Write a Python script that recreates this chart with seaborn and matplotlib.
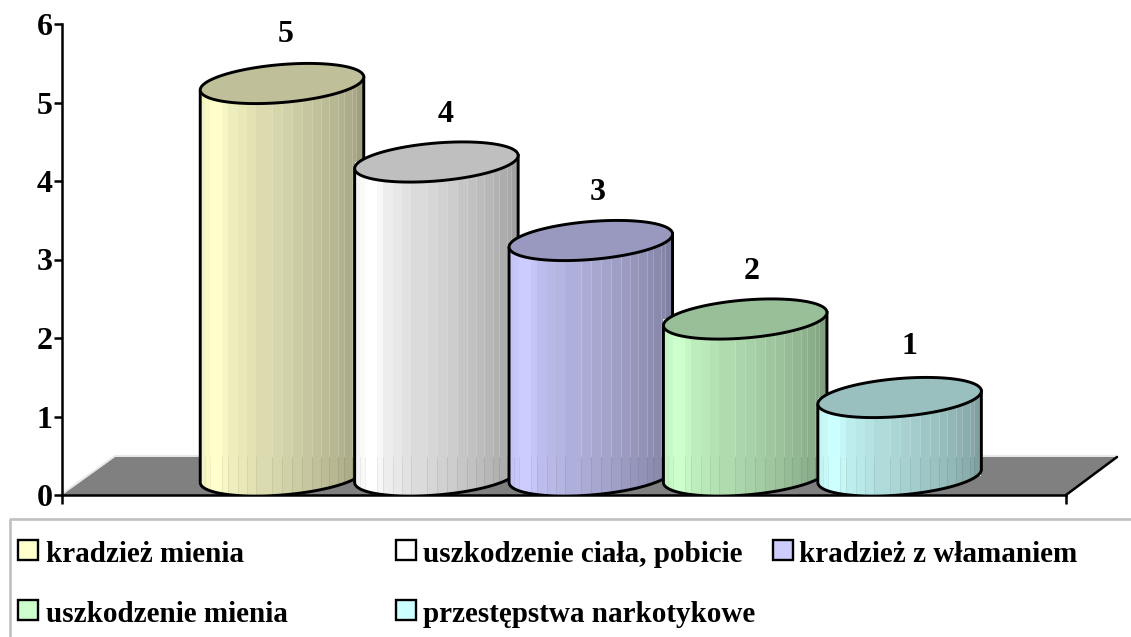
import numpy as np
import pandas as pd
import matplotlib
matplotlib.use('Agg')
import matplotlib.pyplot as plt
import seaborn as sns
from matplotlib.lines import Line2D
from matplotlib.patches import Polygon, Rectangle, PathPatch
from matplotlib.path import Path

# Chart data
categories = ['kradzież mienia', 'uszkodzenie ciała, pobicie', 'kradzież z włamaniem',
              'uszkodzenie mienia', 'przestępstwa narkotykowe']
values = [5, 4, 3, 2, 1]
colors = ['#ffffcc', '#ffffff', '#ccccff', '#ccffcc', '#ccffff']

# Styling of the fake 3D cylinders
band_edges = [0, 5, 10, 22, 28, 38, 47, 56, 72, 82, 92, 102, 112, 121, 129, 138, 144, 152, 156, 164]
band_shades = [0.96, 0.98, 1.0, 0.97, 0.93, 0.91, 0.89, 0.86, 0.84, 0.82, 0.80, 0.78, 0.76,
               0.74, 0.72, 0.70, 0.68, 0.66, 0.63]
label_dx = [4, 9, 7, 6, 10]
label_dy = [48.5, 47.5, 48.5, 47.5, 51.5]
W, H = 1131, 637

sns.set_style('white')
plt.rcParams['font.family'] = ['Liberation Serif', 'DejaVu Serif']
plt.rcParams['font.weight'] = 'bold'


def fig_xy(x, y):
    return x / W, 1 - y / H


df = pd.DataFrame({'category': categories, 'value': values})

fig = plt.figure(figsize=(W / 100, H / 100), dpi=100)
ax = fig.add_axes([62 / W, (H - 495) / H, (1066 - 62) / W, (495 - 24) / H])

sns.barplot(data=df, x='category', y='value', hue='category', palette=colors, width=1.059,
            saturation=1, legend=False, linewidth=0, ax=ax)

xlim = (-220 / 154.4, 784 / 154.4)
ylim = (0, 6)
px_unit = (495 - 24) / 6
depth = 19 / px_unit
ry = 19 / px_unit
tilt = 6.5 / px_unit
floor_y = (495 - 457) / px_unit

# Floor of the 3D box
floor_px = [(62, 495), (115, 457), (1117, 457), (1066, 495)]
ax.add_patch(Polygon([fig_xy(*p) for p in floor_px], closed=True, facecolor='#808080', edgecolor='none',
                     transform=fig.transFigure, clip_on=False, zorder=0.5))
ax.add_line(Line2D(*zip(fig_xy(62, 494), fig_xy(115, 456), fig_xy(1117, 456)), color='#e4e4e4', lw=1.2,
                   transform=fig.transFigure, clip_on=False, zorder=0.6))
ax.add_line(Line2D(*zip(fig_xy(1066, 495), fig_xy(1117, 457)), color='black', lw=1.8,
                   transform=fig.transFigure, clip_on=False, zorder=0.7))

t = np.linspace(0, 2 * np.pi, 200)
t_low = np.linspace(np.pi, 2 * np.pi, 100)

for i, (p, val, col) in enumerate(zip(ax.patches, values, colors)):
    z = 3 + i
    x0, w = p.get_x(), p.get_width()
    cx = x0 + w / 2
    rx = w / 2
    top = depth + val
    p.set_y(depth)
    p.set_zorder(z)

    # outline of the visible body: left side, lower half of the base, right side
    low_x = cx + rx * np.cos(t_low)
    low_y = depth + tilt * np.cos(t_low) + ry * np.sin(t_low)
    body = np.column_stack([
        np.r_[x0, low_x, x0 + w],
        np.r_[top - tilt, low_y, top + tilt],
    ])
    outline = PathPatch(Path(np.r_[body, [body[0]]]), facecolor='none', edgecolor='black', lw=2.1, zorder=z + 0.3)
    ax.add_patch(outline)

    # vertical shading in bands, with thin seams like the old renderer leaves
    base = np.array(matplotlib.colors.to_rgb(col))
    shade = np.ones(164)
    seam_up = np.zeros(164)
    seam_low = np.zeros(164)
    for a, b, s in zip(band_edges[:-1], band_edges[1:], band_shades):
        shade[a:b] = s
        if a >= 72:
            seam_up[a] = 1
        if a >= 5:
            seam_low[a] = 1
    up = shade[:, None] * base
    up = up + (1 - up) * seam_up[:, None] * 0.2
    lo = shade[:, None] * base * (1 - seam_low[:, None] * 0.06)
    for arr, ext in ((up, (x0, x0 + w, floor_y, top + 1)), (lo, (x0, x0 + w, -0.1, floor_y))):
        im = ax.imshow(np.clip(arr, 0, 1)[None, :, :], extent=ext, aspect='auto', interpolation='nearest', zorder=z + 0.1)
        clip = PathPatch(Path(np.r_[body, [body[0]]]), transform=ax.transData)
        im.set_clip_path(clip)

    # top face
    ax.add_patch(Polygon(np.column_stack([cx + rx * np.cos(t), top + tilt * np.cos(t) + ry * np.sin(t)]),
                         closed=True, facecolor=base * 0.75, edgecolor='black', lw=2.1, zorder=z + 0.4))

    ax.annotate(str(val), (cx, top), xytext=(label_dx[i] * 0.72, label_dy[i] * 0.72), textcoords='offset points',
                ha='center', va='center', fontsize=23, fontweight='bold', color='black', zorder=20)

ax.set_xlim(*xlim)
ax.set_ylim(*ylim)
ax.set_xlabel('')
ax.set_ylabel('')
ax.set_xticks(list(xlim))
ax.set_xticklabels([])
ax.set_yticks(range(7))
ax.tick_params(axis='x', length=6.5, width=1.8, color='black', bottom=True)
ax.tick_params(axis='y', length=5.8, width=1.8, color='black', left=True, pad=1, labelsize=23, labelcolor='black')
for lab in ax.get_yticklabels():
    lab.set_fontweight('bold')
ax.patch.set_visible(False)
sns.despine(ax=ax)
for s in ('left', 'bottom'):
    ax.spines[s].set_linewidth(1.8)
    ax.spines[s].set_color('black')

# Legend box, open at the right and bottom edge of the picture
fig.add_artist(Line2D(*zip(fig_xy(10, H), fig_xy(10, 519), fig_xy(W, 519)), color='#c0c0c0', lw=1.9,
                      transform=fig.transFigure))
swatch_x = [18, 396, 773, 18, 396]
text_x = [46, 423, 799, 46, 423]
row_y = [540, 540, 540, 600, 600]
for name, col, sx, tx, ry_px in zip(categories, colors, swatch_x, text_x, row_y):
    x, y = fig_xy(sx, ry_px + 20)
    fig.add_artist(Rectangle((x, y), 20 / W, 20 / H, facecolor=col, edgecolor='black', lw=1.7,
                             transform=fig.transFigure))
    fig.text(*fig_xy(tx, ry_px + 22), name, fontsize=21, fontweight='bold', color='black', va='baseline')

fig.savefig('out.png', dpi=100)
